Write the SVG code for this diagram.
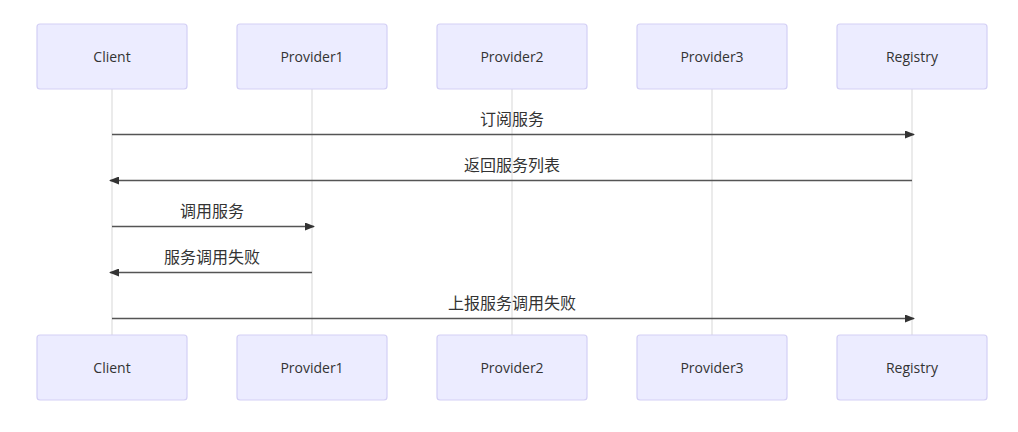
<svg xmlns="http://www.w3.org/2000/svg" width="1018" height="432" viewBox="0 0 1018 432">
<style>
.actor rect{fill:#ECECFF;stroke:#d3cff5;stroke-width:1.2}
.actor text{font-family:"Open Sans","Noto Sans","Noto Sans CJK SC",sans-serif;font-size:14px;fill:#333;text-anchor:middle;dominant-baseline:central}
.life{stroke:#e4e4e4;stroke-width:1.5}
.msg{stroke:#555;stroke-width:1.5;fill:none}
.lbl{font-family:"Noto Sans CJK SC","Noto Sans",sans-serif;font-size:16px;fill:#333;text-anchor:middle}
</style>
<defs>
<marker id="ah" viewBox="0 0 10 8" refX="9" refY="4" markerWidth="10" markerHeight="8" markerUnits="userSpaceOnUse" orient="auto">
<path d="M0,0 L10,4 L0,8 Z" fill="#333"/>
</marker>
</defs>
<g id="lifelines">
<line class="life" x1="112" y1="89" x2="112" y2="335"/>
<line class="life" x1="312" y1="89" x2="312" y2="335"/>
<line class="life" x1="512" y1="89" x2="512" y2="335"/>
<line class="life" x1="712" y1="89" x2="712" y2="335"/>
<line class="life" x1="912" y1="89" x2="912" y2="335"/>
</g>
<g id="client-top" class="actor"><rect x="37" y="24" width="150" height="65" rx="3"/><text x="112" y="56.5">Client</text></g>
<g id="provider1-top" class="actor"><rect x="237" y="24" width="150" height="65" rx="3"/><text x="312" y="56.5">Provider1</text></g>
<g id="provider2-top" class="actor"><rect x="437" y="24" width="150" height="65" rx="3"/><text x="512" y="56.5">Provider2</text></g>
<g id="provider3-top" class="actor"><rect x="637" y="24" width="150" height="65" rx="3"/><text x="712" y="56.5">Provider3</text></g>
<g id="registry-top" class="actor"><rect x="837" y="24" width="150" height="65" rx="3"/><text x="912" y="56.5">Registry</text></g>
<g id="client-bottom" class="actor"><rect x="37" y="335" width="150" height="65" rx="3"/><text x="112" y="367.5">Client</text></g>
<g id="provider1-bottom" class="actor"><rect x="237" y="335" width="150" height="65" rx="3"/><text x="312" y="367.5">Provider1</text></g>
<g id="provider2-bottom" class="actor"><rect x="437" y="335" width="150" height="65" rx="3"/><text x="512" y="367.5">Provider2</text></g>
<g id="provider3-bottom" class="actor"><rect x="637" y="335" width="150" height="65" rx="3"/><text x="712" y="367.5">Provider3</text></g>
<g id="registry-bottom" class="actor"><rect x="837" y="335" width="150" height="65" rx="3"/><text x="912" y="367.5">Registry</text></g>
<g id="connectors">
<line class="msg" x1="112" y1="134.5" x2="914" y2="134.5" marker-end="url(#ah)"/>
<text class="lbl" x="512" y="124.5">订阅服务</text>
<line class="msg" x1="912" y1="180.5" x2="110" y2="180.5" marker-end="url(#ah)"/>
<text class="lbl" x="512" y="170.5">返回服务列表</text>
<line class="msg" x1="112" y1="226.5" x2="314" y2="226.5" marker-end="url(#ah)"/>
<text class="lbl" x="212" y="216.5">调用服务</text>
<line class="msg" x1="312" y1="272.5" x2="110" y2="272.5" marker-end="url(#ah)"/>
<text class="lbl" x="212" y="262.5">服务调用失败</text>
<line class="msg" x1="112" y1="318.5" x2="914" y2="318.5" marker-end="url(#ah)"/>
<text class="lbl" x="512" y="308.5">上报服务调用失败</text>
</g>
</svg>
